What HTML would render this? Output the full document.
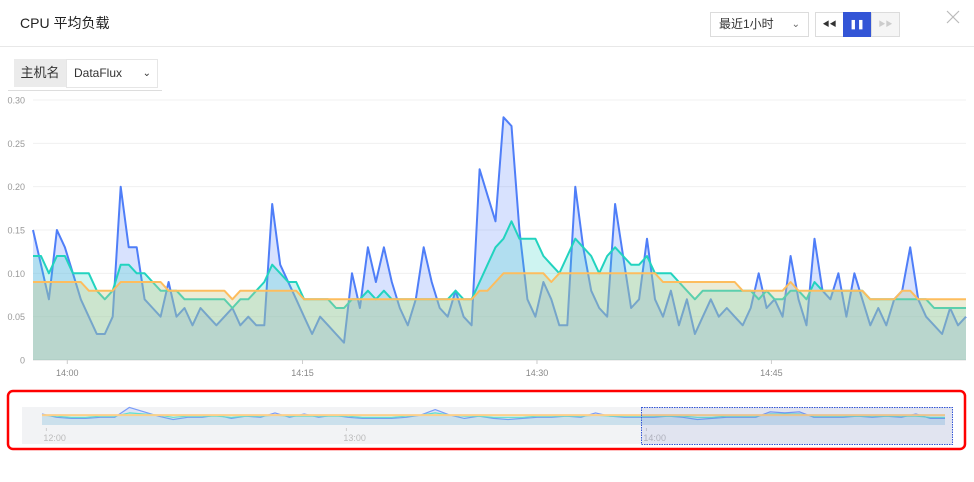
<!DOCTYPE html>
<html><head><meta charset="utf-8">
<style>
body{margin:0;width:974px;height:482px;background:#fff;font-family:"Liberation Sans","Noto Sans CJK SC",sans-serif;position:relative;overflow:hidden}
.abs{position:absolute}
</style></head><body>
<div class="abs" style="left:20px;top:13px;font-size:14px;color:#222">CPU 平均负载</div>
<div class="abs" style="left:0;top:46px;width:974px;height:1px;background:#e8e8e8"></div>
<div class="abs" style="left:710px;top:12px;width:97px;height:23px;border:1px solid #dcdcdc;font-size:12px;line-height:23px;color:#333;box-sizing:content-box"><span style="margin-left:8px">最近1小时</span><span style="position:absolute;right:8px;top:0;font-size:10px;color:#666">&#8964;</span></div>
<div class="abs" style="left:815px;top:12px;width:27px;height:23px;border:1px solid #dcdcdc;font-size:7px;line-height:23px;text-align:center;color:#333">◀◀</div>
<div class="abs" style="left:843px;top:12px;width:28px;height:25px;background:#3355d6;color:#fff;font-size:9px;line-height:25px;text-align:center;font-weight:bold">❚❚</div>
<div class="abs" style="left:871px;top:12px;width:27px;height:23px;border:1px solid #dcdcdc;background:#f5f5f5;font-size:7px;line-height:23px;text-align:center;color:#ccc">▶▶</div>
<svg class="abs" style="left:946px;top:10px" width="14" height="14"><path d="M1,1L13,13M13,1L1,13" stroke="#bbb" stroke-width="1.2"/></svg>
<div class="abs" style="left:14px;top:59px;width:52px;height:28px;background:#ebebeb;font-size:13px;line-height:28px;text-align:center;color:#333">主机名</div>
<div class="abs" style="left:66px;top:59px;width:90px;height:27px;border:1px solid #e6e6e6;font-size:12px;line-height:27px;color:#333"><span style="margin-left:7px">DataFlux</span><span style="position:absolute;right:6px;top:0;font-size:10px">&#8964;</span></div>
<div class="abs" style="left:8px;top:90px;width:154px;height:1px;background:#ddd"></div>
<svg class="abs" style="left:0;top:0" width="974" height="482" id="svg"></svg>
<script>
const blue=[0.15,0.11,0.07,0.15,0.13,0.10,0.07,0.05,0.03,0.03,0.05,0.20,0.13,0.13,0.07,0.06,0.05,0.09,0.05,0.06,0.04,0.06,0.05,0.04,0.05,0.06,0.04,0.05,0.04,0.04,0.18,0.11,0.09,0.07,0.05,0.03,0.05,0.04,0.03,0.02,0.10,0.06,0.13,0.09,0.13,0.09,0.06,0.04,0.07,0.13,0.09,0.06,0.05,0.08,0.05,0.04,0.22,0.19,0.16,0.28,0.27,0.15,0.07,0.05,0.09,0.07,0.04,0.04,0.20,0.13,0.08,0.06,0.05,0.18,0.12,0.06,0.07,0.14,0.07,0.05,0.08,0.04,0.07,0.03,0.05,0.07,0.05,0.06,0.05,0.04,0.06,0.10,0.06,0.07,0.05,0.12,0.07,0.04,0.14,0.08,0.07,0.10,0.05,0.10,0.07,0.04,0.06,0.04,0.07,0.08,0.13,0.07,0.05,0.04,0.03,0.06,0.04,0.05];
const teal=[0.12,0.12,0.10,0.12,0.12,0.10,0.10,0.10,0.08,0.07,0.08,0.11,0.11,0.10,0.10,0.09,0.08,0.08,0.08,0.07,0.07,0.07,0.07,0.07,0.07,0.06,0.07,0.07,0.08,0.09,0.11,0.10,0.09,0.09,0.07,0.07,0.07,0.07,0.06,0.06,0.07,0.07,0.08,0.07,0.08,0.07,0.07,0.07,0.07,0.07,0.07,0.07,0.07,0.08,0.07,0.07,0.09,0.11,0.13,0.14,0.16,0.14,0.14,0.14,0.12,0.11,0.10,0.12,0.14,0.13,0.12,0.10,0.12,0.13,0.12,0.11,0.11,0.12,0.10,0.10,0.10,0.09,0.08,0.07,0.08,0.08,0.08,0.08,0.08,0.08,0.08,0.07,0.08,0.07,0.07,0.08,0.08,0.07,0.09,0.08,0.08,0.08,0.08,0.08,0.08,0.07,0.07,0.07,0.07,0.07,0.07,0.07,0.07,0.06,0.06,0.06,0.06,0.06];
const orange=[0.09,0.09,0.09,0.09,0.09,0.09,0.09,0.08,0.08,0.08,0.08,0.09,0.09,0.09,0.09,0.09,0.09,0.08,0.08,0.08,0.08,0.08,0.08,0.08,0.08,0.07,0.08,0.08,0.08,0.08,0.08,0.08,0.08,0.08,0.07,0.07,0.07,0.07,0.07,0.07,0.07,0.07,0.07,0.07,0.07,0.07,0.07,0.07,0.07,0.07,0.07,0.07,0.07,0.07,0.07,0.07,0.08,0.08,0.09,0.10,0.10,0.10,0.10,0.10,0.10,0.09,0.10,0.10,0.10,0.10,0.10,0.10,0.10,0.10,0.10,0.10,0.10,0.10,0.10,0.09,0.09,0.09,0.09,0.09,0.09,0.09,0.09,0.09,0.09,0.08,0.08,0.08,0.08,0.08,0.08,0.09,0.08,0.08,0.08,0.08,0.08,0.08,0.08,0.08,0.08,0.07,0.07,0.07,0.07,0.08,0.08,0.07,0.07,0.07,0.07,0.07,0.07,0.07];
const yTicks=[0,0.05,0.10,0.15,0.20,0.25,0.30];
const yLabels=["0","0.05","0.10","0.15","0.20","0.25","0.30"];
const xTickIdx=[4.3,33.8,63.2,92.6];
const xLabels=["14:00","14:15","14:30","14:45"];
const miniBlue=[0.10,0.07,0.06,0.06,0.07,0.07,0.16,0.12,0.08,0.05,0.07,0.07,0.09,0.06,0.08,0.07,0.11,0.07,0.10,0.07,0.09,0.07,0.06,0.06,0.06,0.07,0.09,0.14,0.09,0.06,0.08,0.06,0.05,0.06,0.07,0.07,0.08,0.07,0.11,0.08,0.07,0.07,0.07,0.08,0.07,0.05,0.06,0.07,0.07,0.07,0.12,0.11,0.12,0.07,0.07,0.07,0.08,0.07,0.08,0.07,0.10,0.06,0.06];
const miniTeal=[0.09,0.08,0.07,0.07,0.08,0.08,0.11,0.10,0.09,0.07,0.08,0.08,0.08,0.07,0.08,0.08,0.09,0.08,0.08,0.08,0.08,0.08,0.07,0.07,0.07,0.08,0.09,0.11,0.09,0.08,0.08,0.07,0.07,0.07,0.08,0.08,0.08,0.08,0.09,0.08,0.08,0.08,0.08,0.08,0.08,0.07,0.07,0.08,0.08,0.08,0.10,0.10,0.10,0.08,0.08,0.08,0.08,0.08,0.08,0.08,0.08,0.07,0.07];
const miniLabels=["12:00","13:00","14:00"];
const miniLabelIdx=[0.3,20.9,41.5];

const NS="http://www.w3.org/2000/svg";
const svg=document.getElementById('svg');
function mk(t,a,p){const e=document.createElementNS(NS,t);for(const k in a)e.setAttribute(k,a[k]);(p||svg).appendChild(e);return e;}
const X0=33,X1=966,Y0=360,Y1=100,YMAX=0.30;
const n=blue.length;
const xs=i=>X0+(X1-X0)*i/(n-1);
const ys=v=>Y0-(Y0-Y1)*v/YMAX;
yTicks.forEach((t,k)=>{
  const g=mk('line',{x1:X0,x2:X1,y1:ys(t),y2:ys(t),stroke:k==0?'#ddd':'#f0f0f0','stroke-width':1});
  
  
  const tx=mk('text',{x:25,y:ys(t)+3.5,'text-anchor':'end','font-size':9,fill:'#999','font-family':'Liberation Sans'});
  tx.textContent=yLabels[k];
  
  
});
xTickIdx.forEach((t,k)=>{
  const x=xs(t);
  const l=mk('line',{x1:x,x2:x,y1:Y0,y2:Y0+4,stroke:'#ccc'});
  
  
  const tx=mk('text',{x:x,y:Y0+16,'text-anchor':'middle','font-size':9,fill:'#888','font-family':'Liberation Sans'});
  tx.textContent=xLabels[k];
  
  
});
function series(arr,xf,yf,base,color,fill,name,w){
  let d='';arr.forEach((v,i)=>{d+=(i?'L':'M')+xf(i).toFixed(1)+','+yf(v).toFixed(1);});
  const a=mk('path',{d:d+'L'+xf(arr.length-1)+','+base+'L'+xf(0)+','+base+'Z',fill:fill,stroke:'none'});
  
  
  const l=mk('path',{d:d,fill:'none',stroke:color,'stroke-width':w,'stroke-linejoin':'round'});
  
  
}
series(blue,xs,ys,Y0,'#4f7ef8','rgba(100,140,250,0.25)','blue-series',2);
series(teal,xs,ys,Y0,'#22d3bf','rgba(60,210,200,0.25)','teal-series',2);
series(orange,xs,ys,Y0,'#fdbd5e','rgba(200,200,140,0.35)','orange-series',2);

const br=mk('rect',{x:8,y:391,width:957,height:58,rx:5,fill:'none',stroke:'#f00','stroke-width':2.5});


const bg=mk('rect',{x:22,y:407,width:930,height:37,fill:'#f2f3f5'});


const m=miniBlue.length, MX0=42,MX1=945,MB=425,MS=110;
const mx=i=>MX0+(MX1-MX0)*i/(m-1);
const my=v=>MB-v*MS;
series(miniBlue,mx,my,MB,'#7a9cf8','rgba(120,150,250,0.15)','mini-blue',1.2);
series(miniTeal,mx,my,MB,'#5fe0cf','rgba(90,200,190,0.15)','mini-teal',1.2);
const mo=mk('line',{x1:MX0,x2:MX1,y1:my(0.09),y2:my(0.09),stroke:'#fcd08a','stroke-width':2});


miniLabelIdx.forEach((t,k)=>{
  const x=mx(t);
  const l=mk('line',{x1:x,x2:x,y1:428,y2:431,stroke:'#ccc'});
  
  
  const tx=mk('text',{x:x-3,y:441,'text-anchor':'start','font-size':9,fill:'#bbb','font-family':'Liberation Sans'});
  tx.textContent=miniLabels[k];
  
  
});
const sel=mk('rect',{x:641.5,y:407.5,width:311,height:37,fill:'rgba(60,80,200,0.09)',stroke:'#3355d6','stroke-width':1,'stroke-dasharray':'1.5,1'});


</script>
</body></html>
